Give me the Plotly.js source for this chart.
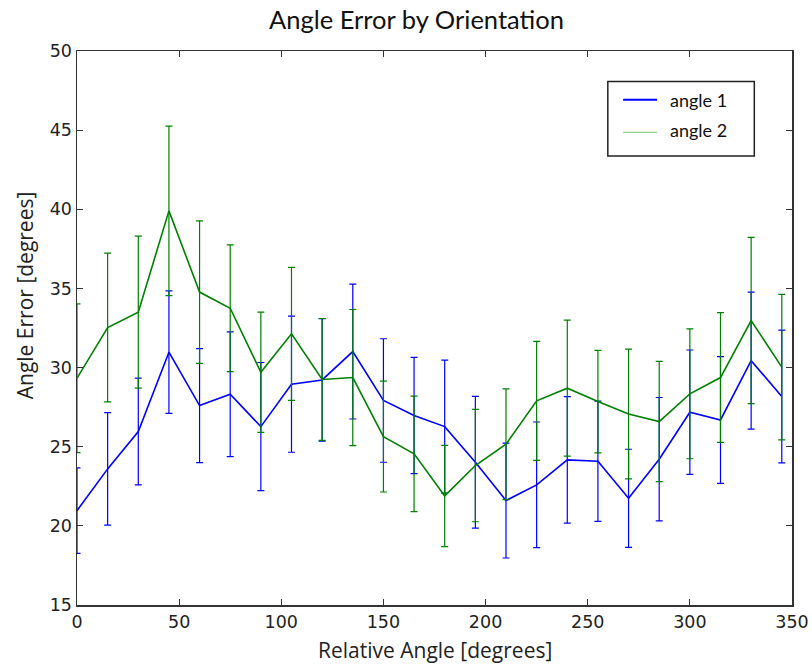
<!DOCTYPE html>
<html>
<head>
<meta charset="utf-8">
<script src="https://cdn.plot.ly/plotly-3.0.1.min.js"></script>
<style>
  html, body { margin: 0; padding: 0; background: #ffffff; }
  #chart { width: 812px; height: 666px; }
</style>
</head>
<body>
<div id="chart"></div>
<script>
// Relative angle (degrees) at which each orientation was measured
const angles = [0, 15, 30, 45, 60, 75, 90, 105, 120, 135, 150, 165,
                180, 195, 210, 225, 240, 255, 270, 285, 300, 315, 330, 345];

// Mean angle error and its spread for "angle 1"
const angle1Mean = [20.96, 23.6, 25.96, 30.97, 27.6, 28.32, 26.27, 28.95, 29.22, 31.01, 27.92, 26.97,
                    26.27, 24.02, 21.6, 22.59, 24.17, 24.08, 21.74, 24.21, 27.18, 26.69, 30.44, 28.17];
const angle1Err  = [2.7, 3.55, 3.37, 3.87, 3.6, 3.94, 4.05, 4.3, 3.87, 4.26, 3.9, 3.67,
                    4.2, 4.16, 3.63, 3.97, 4.0, 3.8, 3.1, 3.9, 3.93, 4.0, 4.33, 4.19];

// Mean angle error and its spread for "angle 2"
const angle2Mean = [29.33, 32.53, 33.5, 39.9, 34.77, 33.75, 29.7, 32.13, 29.25, 29.37, 25.64, 24.55,
                    21.89, 23.81, 25.16, 27.9, 28.7, 27.85, 27.07, 26.59, 28.34, 29.37, 32.97, 30.03];
const angle2Err  = [4.7, 4.7, 4.8, 5.36, 4.5, 4.0, 3.8, 4.2, 3.85, 4.3, 3.5, 3.65,
                    3.2, 3.55, 3.5, 3.76, 4.3, 3.24, 4.1, 3.8, 4.1, 4.1, 5.25, 4.6];

const seriesNames = ['angle 1', 'angle 2'];
const xTicks = [0, 50, 100, 150, 200, 250, 300, 350];
const yTicks = [15, 20, 25, 30, 35, 40, 45, 50];

const BLUE = '#0000ff';
const GREEN = '#008000';

function errTrace(name, x, y, err, color) {
  return {
    type: 'scatter',
    mode: 'lines',
    name: name,
    x: x,
    y: y,
    line: { color: color, width: 1.6 },
    error_y: { type: 'data', array: err, visible: true, color: color, thickness: 1.2, width: 3.5 },
    showlegend: false,
    hoverinfo: 'x+y'
  };
}

const traces = [
  errTrace(seriesNames[0], angles, angle1Mean, angle1Err, BLUE),
  errTrace(seriesNames[1], angles, angle2Mean, angle2Err, GREEN)
];

const axisCommon = {
  showgrid: false,
  zeroline: false,
  showline: true,
  linecolor: '#333333',
  linewidth: 1.5,
  mirror: 'ticks',
  ticks: 'inside',
  ticklen: 6,
  tickwidth: 1,
  tickcolor: '#333333',
  tickfont: { family: 'DejaVu Sans', size: 17.5, color: '#222222' }
};

// Legend box drawn in paper coordinates
const legendBox = { x0: 0.7424, x1: 0.9473, y0: 0.8104, y1: 0.9451 };

const layout = {
  width: 812,
  height: 666,
  paper_bgcolor: '#ffffff',
  plot_bgcolor: '#ffffff',
  margin: { l: 76.5, r: 20, t: 51, b: 61 },
  title: {
    text: 'Angle Error by Orientation',
    font: { family: 'Lato', size: 25.5, color: '#111111' },
    xref: 'container', yref: 'container',
    x: 416.5 / 812, y: 1 - 20 / 666,
    xanchor: 'center', yanchor: 'middle'
  },
  xaxis: Object.assign({}, axisCommon, {
    range: [0, 350],
    tickmode: 'array',
    tickvals: xTicks,
    ticktext: xTicks.map(String)
  }),
  yaxis: Object.assign({}, axisCommon, {
    range: [15, 50],
    tickmode: 'array',
    tickvals: yTicks,
    ticktext: yTicks.map(String)
  }),
  shapes: [
    { type: 'rect', xref: 'paper', yref: 'paper',
      x0: legendBox.x0, x1: legendBox.x1, y0: legendBox.y0, y1: legendBox.y1,
      line: { color: '#222222', width: 1.5 }, fillcolor: '#ffffff' },
    { type: 'line', xref: 'paper', yref: 'paper',
      x0: 0.7638, x1: 0.8113, y0: 0.912, y1: 0.912,
      line: { color: BLUE, width: 2 } },
    { type: 'line', xref: 'paper', yref: 'paper',
      x0: 0.7638, x1: 0.8113, y0: 0.853, y1: 0.853,
      line: { color: '#8fcc8f', width: 1.2 } }
  ],
  annotations: [
    { text: seriesNames[0], xref: 'paper', yref: 'paper', x: 0.8267, y: 0.9117,
      xanchor: 'left', yanchor: 'middle', showarrow: false,
      font: { family: 'Lato', size: 18, color: '#111111' } },
    { text: seriesNames[1], xref: 'paper', yref: 'paper', x: 0.8267, y: 0.858,
      xanchor: 'left', yanchor: 'middle', showarrow: false,
      font: { family: 'Lato', size: 18, color: '#111111' } },
    { text: 'Relative Angle [degrees]', xref: 'paper', yref: 'paper',
      x: 0.5, y: (605 - 650) / 554, xanchor: 'center', yanchor: 'middle', showarrow: false,
      font: { family: 'Open Sans', size: 21, color: '#222222' } },
    { text: 'Angle Error [degrees]', xref: 'paper', yref: 'paper',
      x: (24 - 76.5) / 715.5, y: (605 - 295.7) / 554, textangle: -90,
      xanchor: 'center', yanchor: 'middle', showarrow: false,
      font: { family: 'Open Sans', size: 21, color: '#222222' } }
  ]
};

Plotly.newPlot('chart', traces, layout, { displayModeBar: false, staticPlot: true });
</script>
</body>
</html>
